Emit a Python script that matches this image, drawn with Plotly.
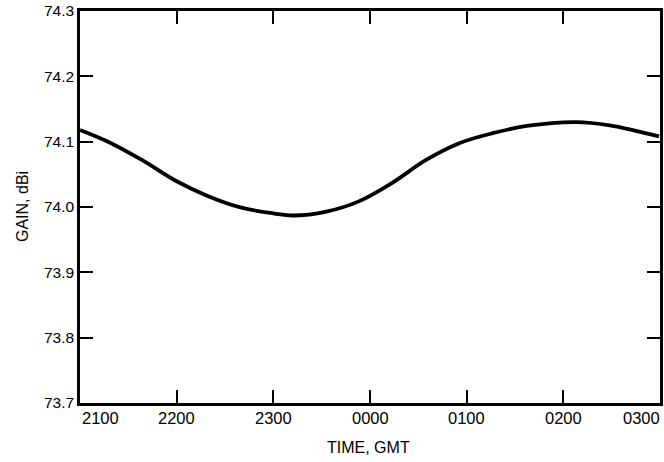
import plotly.graph_objects as go

# hours after 2100 GMT
hours = [0.0, 0.29, 0.64, 0.98, 1.32, 1.67, 2.01, 2.20, 2.55, 2.89, 3.23, 3.58, 3.93, 4.27, 4.62, 5.13, 5.48, 5.99]
gain = [74.118, 74.100, 74.072, 74.041, 74.017, 73.999, 73.990, 73.987, 73.993, 74.009, 74.037, 74.072, 74.098, 74.113, 74.124, 74.130, 74.125, 74.108]

x_tickvals = [0, 1, 2, 3, 4, 5, 6]
x_ticktext = ["2100", "2200", "2300", "0000", "0100", "0200", "0300"]
y_tickvals = [73.7, 73.8, 73.9, 74.0, 74.1, 74.2, 74.3]
y_ticktext = ["73.7", "73.8", "73.9", "74.0", "74.1", "74.2", "74.3"]

FONT = "Liberation Sans, Arial, sans-serif"

fig = go.Figure()
fig.add_trace(go.Scatter(x=hours, y=gain, mode="lines",
                         line=dict(color="black", width=3.8, shape="spline", smoothing=1.0),
                         showlegend=False, hoverinfo="skip"))

annotations = []
for i, (v, t) in enumerate(zip(x_tickvals, x_ticktext)):
    if i == 0:
        xa, xs = "left", 0
    elif i == len(x_tickvals) - 1:
        xa, xs = "right", 2
    else:
        xa, xs = "center", 0
    annotations.append(dict(x=v, y=0, xref="x", yref="paper", text=t, showarrow=False,
                            xanchor=xa, yanchor="top", yshift=-4, xshift=xs,
                            font=dict(family=FONT, size=16.5, color="black")))
annotations.append(dict(x=0.5, y=0, xref="paper", yref="paper", text="TIME, GMT", showarrow=False,
                        xanchor="center", yanchor="top", yshift=-34, xshift=-2,
                        font=dict(family=FONT, size=16, color="black")))
annotations.append(dict(x=0, y=0.5, xref="paper", yref="paper", text="GAIN, dBi", showarrow=False,
                        xanchor="center", yanchor="middle", xshift=-58, textangle=-90,
                        font=dict(family=FONT, size=16, color="black")))

fig.update_layout(
    width=664, height=462,
    margin=dict(l=80, r=4, t=11, b=59, autoexpand=False),
    paper_bgcolor="white", plot_bgcolor="white",
    font=dict(family=FONT, size=15, color="black"),
    annotations=annotations,
)
fig.update_xaxes(range=[0, 6], tickvals=x_tickvals, ticktext=["" for _ in x_ticktext],
                 ticks="inside", ticklen=13, tickwidth=1.5, tickcolor="black",
                 showline=True, linewidth=2.5, linecolor="black", mirror="allticks",
                 showgrid=False, zeroline=False, automargin=False)
fig.update_yaxes(range=[73.7, 74.3], tickvals=y_tickvals, ticktext=y_ticktext,
                 ticks="inside", ticklen=13, tickwidth=1.5, tickcolor="black",
                 showline=True, linewidth=2.5, linecolor="black", mirror="allticks",
                 showgrid=False, zeroline=False, automargin=False,
                 tickfont=dict(family=FONT, size=15.5, color="black"))

fig.write_html("out.html", config={"displayModeBar": False},
               post_script="document.body.style.margin='0px';")
